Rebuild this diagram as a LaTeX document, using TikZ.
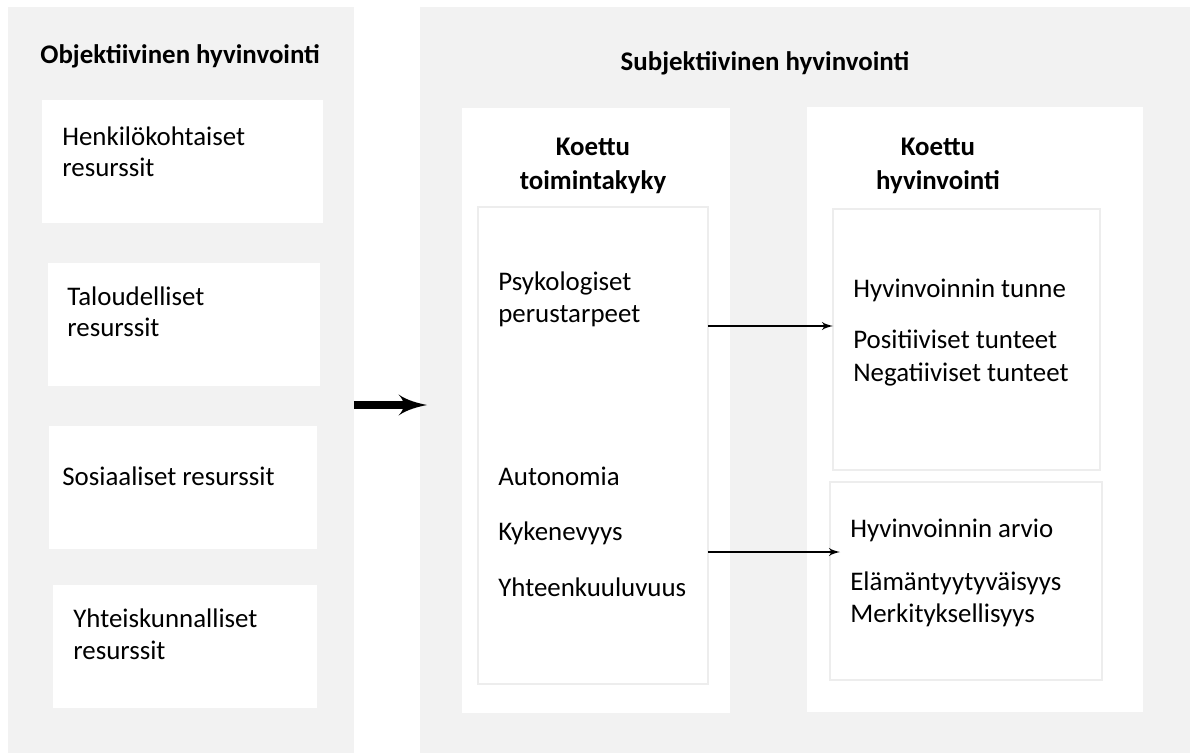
\documentclass[tikz,border=0pt]{standalone}
\usepackage{fontspec}
\setmainfont{Carlito}
\usepackage{tikz}
\usetikzlibrary{arrows}
\usetikzlibrary{calc}
\definecolor{panelgray}{HTML}{F2F2F2}
\definecolor{framegray}{HTML}{EDEDED}
\begin{document}
\begin{tikzpicture}[x=0.02cm,y=-0.02cm,>=latex',
	panel/.style={fill=panelgray,anchor=north west,inner sep=0,outer sep=0},
	wbox/.style={fill=white,anchor=north west,inner sep=0,outer sep=0},
	frame/.style={fill=white,draw=framegray,line width=1.1pt,anchor=north west,inner sep=0,outer sep=0},
	txt/.style={anchor=base west,inner sep=0,align=left,font=\fontsize{15.3}{18.2}\selectfont},
	head/.style={anchor=base,inner sep=0,align=center,font=\fontsize{15.3}{19.9}\selectfont\bfseries}]
			\useasboundingbox(0,0)rectangle(1190,753);
			% harmaat pohjat
			\node[panel,minimum width=6.92cm,minimum height=14.92cm](objpanel)at(8,7){};
			\node[panel,minimum width=15.4cm,minimum height=14.92cm](subjpanel)at(420,7){};
			% objektiivinen puoli (monirivisen solmun base = viimeinen rivi)
			\node[head,anchor=base west](objtitle)at(40,64){Objektiivinen hyvinvointi};
			\node[wbox,minimum width=5.62cm,minimum height=2.46cm](henk)at(42,100){};
			\node[wbox,minimum width=5.44cm,minimum height=2.46cm](talo)at(48,263){};
			\node[wbox,minimum width=5.36cm,minimum height=2.46cm](sosi)at(49,426){};
			\node[wbox,minimum width=5.28cm,minimum height=2.46cm](yhte)at(53,585){};
			\node[txt](henktxt)at(62,177){Henkilökohtaiset\\resurssit};
			\node[txt](talotxt)at(67,337){Taloudelliset\\resurssit};
			\node[txt](sositxt)at(62,485){Sosiaaliset resurssit};
			\node[txt](yhtetxt)at(73,659){Yhteiskunnalliset\\resurssit};
			% subjektiivinen puoli
			\node[head](subjtitle)at(765,71){Subjektiivinen hyvinvointi};
			\node[wbox,minimum width=5.36cm,minimum height=12.1cm](toimbox)at(462,108){};
			\node[wbox,minimum width=6.72cm,minimum height=12.1cm](hyvbox)at(807,107){};
			\node[head](toimtitle)at(593,190){Koettu\\toimintakyky};
			\node[head](hyvtitle)at(938,190){Koettu\\hyvinvointi};
			\node[frame,minimum width=4.6cm,minimum height=9.54cm](toimframe)at(478,207){};
			\node[frame,minimum width=5.34cm,minimum height=5.22cm](tunneframe)at(833,209){};
			\node[frame,minimum width=5.44cm,minimum height=3.96cm](arvioframe)at(830,482){};
			\node[txt](psyk)at(498,322){Psykologiset\\perustarpeet};
			\node[txt](auto)at(498,485){Autonomia};
			\node[txt](kyke)at(498,540){Kykenevyys};
			\node[txt](yhteen)at(498,596){Yhteenkuuluvuus};
			\node[txt](tunne)at(853,297){Hyvinvoinnin tunne};
			\node[txt](posit)at(853,348){Positiiviset tunteet};
			\node[txt](negat)at(853,381){Negatiiviset tunteet};
			\node[txt](arvio)at(850,537){Hyvinvoinnin arvio};
			\node[txt](elama)at(850,590){Elämäntyytyväisyys};
			\node[txt](merki)at(850,622){Merkityksellisyys};
			% nuolet
			\coordinate(mid)at(0,405);
			\coordinate(upper)at(0,326);
			\coordinate(lower)at(0,552);
			\draw[->,line width=4.5pt,shorten >=-0.14cm](objpanel.east|-mid)--(subjpanel.west|-mid);
			\draw[->,line width=1.2pt](toimframe.east|-upper)--(tunneframe.west|-upper);
			\draw[->,line width=1.2pt,shorten >=-0.2cm](toimframe.east|-lower)--(arvioframe.west|-lower);
		\end{tikzpicture}
\end{document}
